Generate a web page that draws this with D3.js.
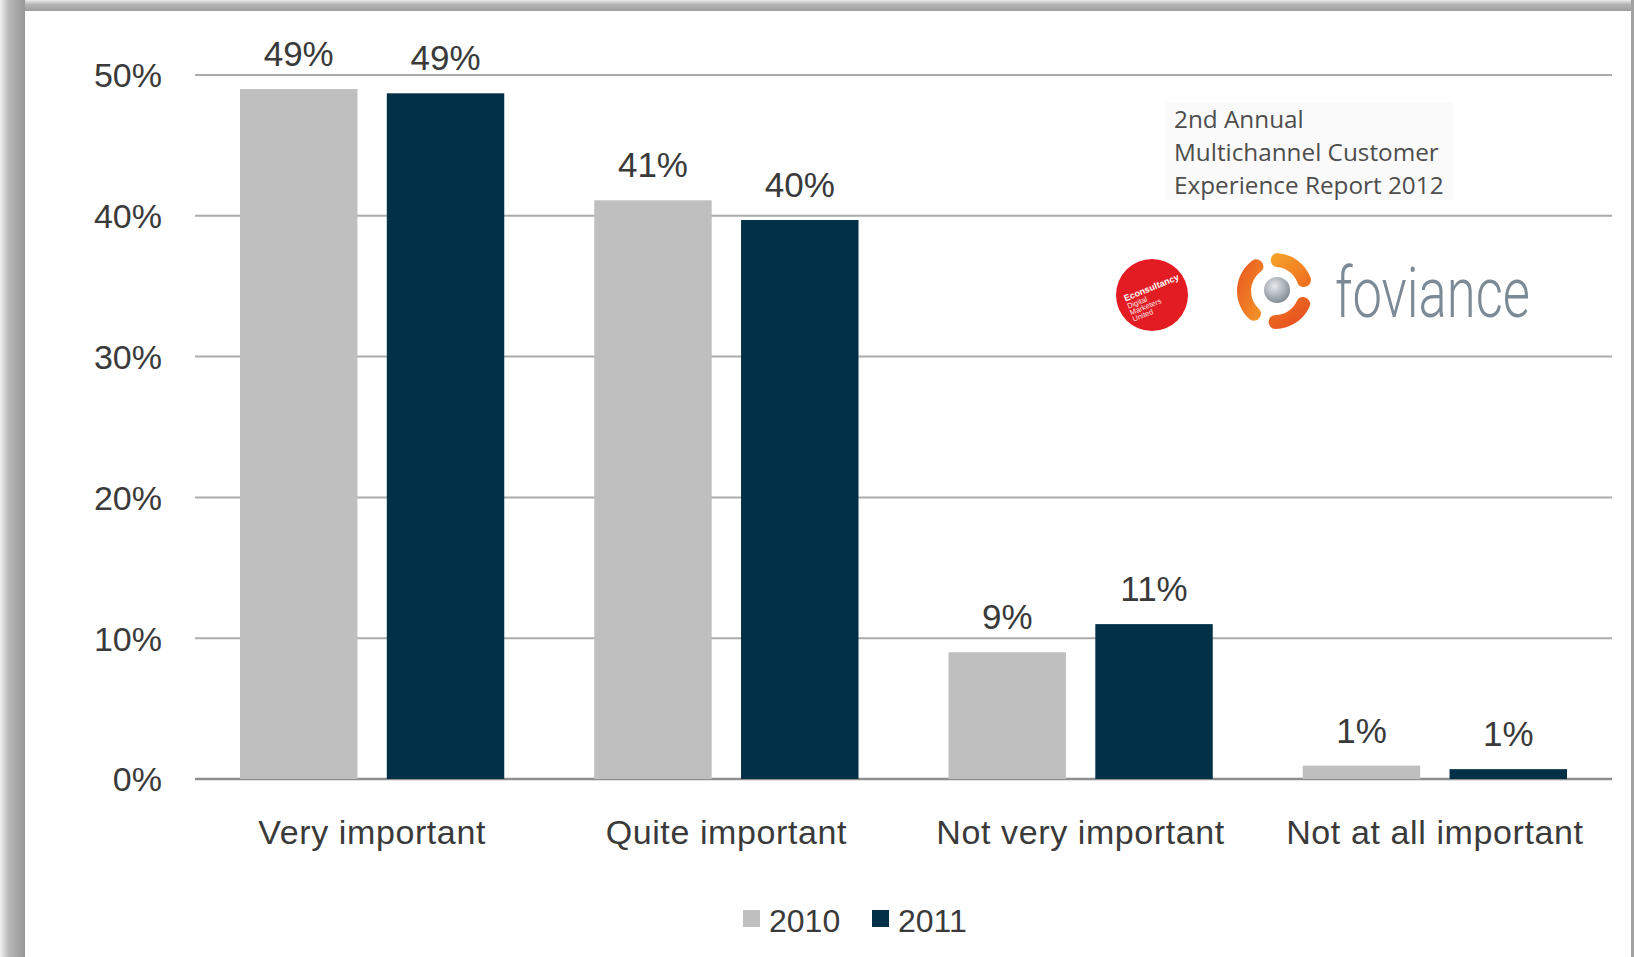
<!DOCTYPE html>
<html><head><meta charset="utf-8">
<script src="https://cdn.jsdelivr.net/npm/d3@7"></script>
<style>html,body{margin:0;padding:0;background:#fff;overflow:hidden}</style>
</head><body><svg id="chart" width="1634" height="957"></svg>
<script>
// Importance ratings, share of respondents (%)
const categories = ["Very important", "Quite important", "Not very important", "Not at all important"];
const seriesNames = ["2010", "2011"];
const values2010 = [49.0, 41.1, 9.0, 0.95];
const values2011 = [48.7, 39.7, 11.0, 0.7];
const yTicks = [0, 10, 20, 30, 40, 50];
const seriesColors = ["#bfbfbf", "#023047"];
const reportLines = ["2nd Annual", "Multichannel Customer", "Experience Report 2012"];

const W = 1634, H = 957;
const FONT = "'Liberation Sans', Arial, sans-serif";
const TEXT = "#3a3a3a";
const svg = d3.select("#chart");
const defs = svg.append("defs");

// ---- frame with soft shadow on the left / top edges ----
const gl = defs.append("linearGradient").attr("id", "edgeL").attr("x1", 0).attr("x2", 1).attr("y1", 0).attr("y2", 0);
gl.append("stop").attr("offset", 0).attr("stop-color", "#f2f2f2");
gl.append("stop").attr("offset", 0.35).attr("stop-color", "#b8b8b8");
gl.append("stop").attr("offset", 1).attr("stop-color", "#979797");
const gt = defs.append("linearGradient").attr("id", "edgeT").attr("x1", 0).attr("x2", 0).attr("y1", 0).attr("y2", 1);
gt.append("stop").attr("offset", 0).attr("stop-color", "#ececec");
gt.append("stop").attr("offset", 0.4).attr("stop-color", "#b5b5b5");
gt.append("stop").attr("offset", 1).attr("stop-color", "#9d9d9d");
svg.append("rect").attr("width", W).attr("height", H).attr("fill", "#fff");
svg.append("rect").attr("x", 0).attr("y", 0).attr("width", W).attr("height", 11).attr("fill", "url(#edgeT)");
svg.append("rect").attr("x", 0).attr("y", 0).attr("width", 25).attr("height", H).attr("fill", "url(#edgeL)");
svg.append("rect").attr("x", 1631).attr("y", 0).attr("width", 3).attr("height", H).attr("fill", "#a2a2a2");

// ---- scales ----
const x0 = d3.scaleBand().domain(categories).range([195, 1612]).paddingInner(0).paddingOuter(0);
const x1 = d3.scaleBand().domain(seriesNames).range([45, x0.bandwidth() - 45]).paddingInner(0.2);
const y = d3.scaleLinear().domain([0, 50]).range([779, 75]);

// ---- gridlines ----
const grid = svg.append("g").attr("class", "grid");
grid.selectAll("line").data(yTicks).join("line")
  .attr("x1", 195).attr("x2", 1612)
  .attr("y1", d => y(d)).attr("y2", d => y(d))
  .attr("stroke", d => d === 0 ? "#8e8e8e" : "#ababab")
  .attr("stroke-width", d => d === 0 ? 2.5 : 2);

// ---- y axis labels ----
const yAxis = d3.axisLeft(y).tickValues(yTicks).tickFormat(d => d + "%").tickSize(0).tickPadding(0);
const ya = svg.append("g").attr("transform", "translate(162,0)").call(yAxis);
ya.select(".domain").remove();
ya.selectAll("text").attr("font-family", FONT).attr("font-size", 34).attr("fill", TEXT).attr("dy", "0.35em");

// ---- report note & logos ----
svg.append("rect").attr("x", 1165).attr("y", 102).attr("width", 288).attr("height", 98).attr("fill", "#fafafa");
svg.append("g").selectAll("text").data(reportLines).join("text")
  .attr("x", 1174).attr("y", (d, i) => 128 + i * 33)
  .attr("font-family", "'Open Sans', 'Noto Sans', sans-serif").attr("font-size", 24.3)
  .attr("fill", "#4d4d4d").text(d => d);

// Econsultancy roundel
const eco = svg.append("g").attr("transform", "translate(1152,295)");
eco.append("circle").attr("r", 36).attr("fill", "#e31b23");
const ecoT = eco.append("g").attr("transform", "rotate(-22)");
ecoT.append("text").attr("x", -27).attr("y", -4).attr("font-family", FONT).attr("font-size", 9)
  .attr("font-weight", "bold").attr("fill", "#fff").text("Econsultancy");
[["Digital", 4], ["Marketers", 11], ["United", 18]].forEach(([t, dy]) => {
  ecoT.append("text").attr("x", -27).attr("y", dy).attr("font-family", FONT).attr("font-size", 7.5)
    .attr("fill", "#fde3e3").text(t);
});

// foviance mark
const fov = svg.append("g").attr("transform", "translate(1275,291)");
const bladeDefs = [
  { id: "bladeA", c0: "#f6a52a", c1: "#ef6b1f", a0: -8, a1: 82 },
  { id: "bladeB", c0: "#f07a22", c1: "#e4461f", a0: 102, a1: 192 },
  { id: "bladeC", c0: "#e9521f", c1: "#f39a2a", a0: 210, a1: 336 }
];
bladeDefs.forEach(b => {
  const g = defs.append("linearGradient").attr("id", b.id).attr("x1", 0).attr("x2", 1).attr("y1", 0).attr("y2", 1);
  g.append("stop").attr("offset", 0).attr("stop-color", b.c0);
  g.append("stop").attr("offset", 1).attr("stop-color", b.c1);
  const arc = d3.arc().innerRadius(24).outerRadius(38).cornerRadius(7)
    .startAngle(b.a0 * Math.PI / 180).endAngle(b.a1 * Math.PI / 180);
  fov.append("path").attr("d", arc()).attr("fill", `url(#${b.id})`);
});
const sg = defs.append("radialGradient").attr("id", "sphere").attr("cx", 0.4).attr("cy", 0.35).attr("r", 0.7);
sg.append("stop").attr("offset", 0).attr("stop-color", "#e6e9ec");
sg.append("stop").attr("offset", 1).attr("stop-color", "#7d8790");
fov.append("circle").attr("cx", 2).attr("cy", -1).attr("r", 13).attr("fill", "url(#sphere)");
svg.append("text").attr("x", 1335).attr("y", 317)
  .attr("font-family", "Roboto, 'Open Sans', sans-serif").attr("font-weight", 300).attr("font-size", 70)
  .attr("textLength", 195).attr("lengthAdjust", "spacingAndGlyphs")
  .attr("fill", "#7b8a95").text("foviance");

// ---- bars ----
const rows = categories.map((c, i) => ({ category: c, values: [values2010[i], values2011[i]] }));
const groups = svg.append("g").selectAll("g").data(rows).join("g")
  .attr("transform", d => `translate(${x0(d.category)},0)`);
groups.selectAll("rect").data(d => d.values.map((v, k) => ({ key: seriesNames[k], v, k }))).join("rect")
  .attr("x", d => x1(d.key)).attr("width", x1.bandwidth())
  .attr("y", d => y(d.v)).attr("height", d => y(0) - y(d.v))
  .attr("fill", d => seriesColors[d.k]);
groups.selectAll("text.val").data(d => d.values.map((v, k) => ({ key: seriesNames[k], v, k }))).join("text")
  .attr("class", "val")
  .attr("x", d => x1(d.key) + x1.bandwidth() / 2).attr("y", d => y(d.v) - 23)
  .attr("text-anchor", "middle").attr("font-family", FONT).attr("font-size", 35).attr("fill", TEXT)
  .text(d => Math.round(d.v) + "%");

// ---- category axis labels ----
const xAxis = d3.axisBottom(x0).tickSize(0).tickPadding(0);
const xa = svg.append("g").attr("transform", "translate(0,844)").call(xAxis);
xa.select(".domain").remove();
xa.selectAll("text").attr("font-family", FONT).attr("font-size", 34).attr("fill", TEXT)
  .attr("dy", 0).attr("letter-spacing", 0.6);

// ---- legend ----
const legendX = [743, 872];
const lg = svg.append("g").selectAll("g").data(seriesNames).join("g")
  .attr("transform", (d, i) => `translate(${legendX[i]},0)`);
lg.append("rect").attr("x", 0).attr("y", 910).attr("width", 17).attr("height", 17)
  .attr("fill", (d, i) => seriesColors[i]);
lg.append("text").attr("x", 26).attr("y", 932).attr("font-family", FONT).attr("font-size", 32)
  .attr("fill", TEXT).text(d => d);
</script>
</body></html>
